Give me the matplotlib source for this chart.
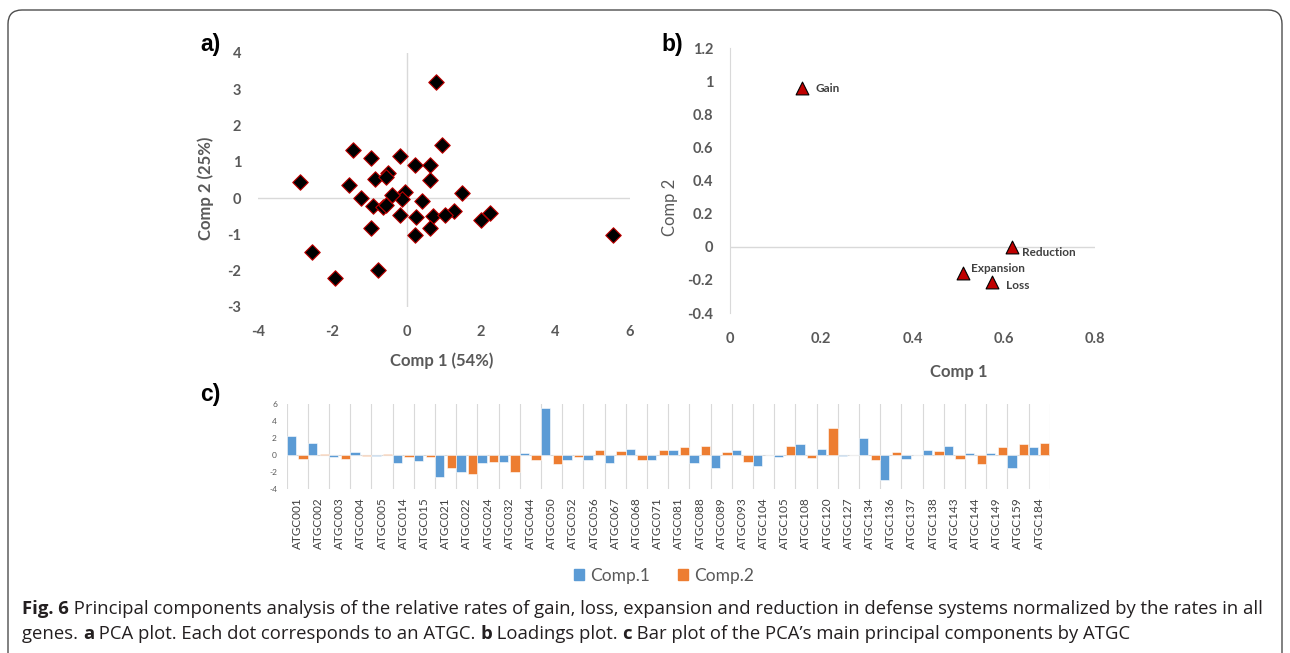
"""
PCA figure (Fig. 6): scores scatter, loadings plot and per-ATGC bar plot.

Output:
    out.png (1290 x 653 px)
"""

from __future__ import annotations

import matplotlib

matplotlib.use("Agg")

import matplotlib.pyplot as plt
import numpy as np
from matplotlib import font_manager
from matplotlib.patches import FancyBboxPatch, Patch
from matplotlib.transforms import IdentityTransform


# ---------------------------------------------------------------------------
# Data
# ---------------------------------------------------------------------------

ATGC_LABELS = [
    "ATGC001", "ATGC002", "ATGC003", "ATGC004", "ATGC005", "ATGC014",
    "ATGC015", "ATGC021", "ATGC022", "ATGC024", "ATGC032", "ATGC044",
    "ATGC050", "ATGC052", "ATGC056", "ATGC067", "ATGC068", "ATGC071",
    "ATGC081", "ATGC088", "ATGC089", "ATGC093", "ATGC104", "ATGC105",
    "ATGC108", "ATGC120", "ATGC127", "ATGC134", "ATGC136", "ATGC137",
    "ATGC138", "ATGC143", "ATGC144", "ATGC149", "ATGC159", "ATGC184",
]

COMP1_SCORES = [
    2.25, 1.48, -0.17, 0.40, -0.04, -0.90,
    -0.63, -2.55, -1.93, -0.95, -0.78, 0.25,
    5.53, -0.55, -0.50, -0.85, 0.71, -0.56,
    0.64, -0.96, -1.54, 0.64, -1.23, -0.19,
    1.28, 0.79, -0.13, 1.99, -2.86, -0.40,
    0.63, 1.04, 0.23, 0.23, -1.45, 0.96,
]

COMP2_SCORES = [
    -0.42, 0.14, -0.47, -0.09, 0.16, -0.23,
    -0.25, -1.48, -2.21, -0.82, -1.97, -0.53,
    -1.03, -0.20, 0.68, 0.53, -0.50, 0.57,
    0.92, 1.11, 0.35, -0.82, 0.00, 1.15,
    -0.37, 3.20, -0.02, -0.61, 0.43, 0.09,
    0.49, -0.46, -1.03, 0.92, 1.31, 1.46,
]

LOADING_NAMES = ["Gain", "Reduction", "Expansion", "Loss"]
LOADING_COMP1 = [0.158, 0.618, 0.510, 0.574]
LOADING_COMP2 = [0.96, 0.00, -0.16, -0.21]

SCORE_X_TICKS = [-4, -2, 0, 2, 4, 6]
SCORE_Y_TICKS = [-3, -2, -1, 0, 1, 2, 3, 4]
LOADING_X_TICKS = [0, 0.2, 0.4, 0.6, 0.8]
LOADING_Y_TICKS = [-0.4, -0.2, 0, 0.2, 0.4, 0.6, 0.8, 1, 1.2]
BAR_Y_TICKS = [-4, -2, 0, 2, 4, 6]

CAPTION_LINE1 = [
    ("Fig. 6", True),
    (" Principal components analysis of the relative rates of gain, loss, expansion "
     "and reduction in defense systems normalized by the rates in all", False),
]
CAPTION_LINE2 = [
    ("genes. ", False),
    ("a", True),
    (" PCA plot. Each dot corresponds to an ATGC. ", False),
    ("b", True),
    (" Loadings plot. ", False),
    ("c", True),
    (" Bar plot of the PCA\u2019s main principal components by ATGC", False),
]


# ---------------------------------------------------------------------------
# Style
# ---------------------------------------------------------------------------

OUTPUT_PNG = "out.png"
FIGURE_DPI = 100
FIG_W_PX, FIG_H_PX = 1290, 653

BLUE = "#5B9BD5"
ORANGE = "#ED7D31"
TICK_GRAY = "#595959"
LINE_GRAY = "#D9D9D9"
TEXT_DARK = "#231F20"

_available = {f.name for f in font_manager.fontManager.ttflist}
CHART_FONT = "Lato" if "Lato" in _available else "DejaVu Sans"
CAPTION_FONT = next(
    (name for name in ["Liberation Sans Narrow", "Open Sans", "Liberation Sans"] if name in _available),
    "DejaVu Sans",
)

plt.rcParams["font.family"] = [CHART_FONT, "DejaVu Sans"]
plt.rcParams["axes.unicode_minus"] = False  # Excel uses a plain hyphen

# label offsets (pixels) for the loading annotations
LOADING_LABEL_OFFSETS = {
    "Gain": (13, 0),
    "Reduction": (10, -6),
    "Expansion": (8, 5),
    "Loss": (14, -4),
}


def px_rect(left, top, right, bottom):
    """Pixel box (top-left origin) -> figure fraction [l, b, w, h]."""
    return [
        left / FIG_W_PX,
        1 - bottom / FIG_H_PX,
        (right - left) / FIG_W_PX,
        (bottom - top) / FIG_H_PX,
    ]


def style_plain_axes(ax):
    for spine in ax.spines.values():
        spine.set_visible(False)
    ax.tick_params(length=0, labelcolor=TICK_GRAY)


def plot_scores(fig):
    ax = fig.add_axes(px_rect(257.7, 52.7, 630, 307))
    ax.scatter(
        COMP1_SCORES, COMP2_SCORES,
        marker="D", s=62, c="black", edgecolors="#C00000", linewidths=0.8, zorder=3,
    )
    ax.set_xlim(-4, 6)
    ax.set_ylim(-3, 4)
    ax.axhline(0, color=LINE_GRAY, lw=1.0, zorder=1)
    ax.axvline(0, color=LINE_GRAY, lw=1.0, zorder=1)
    style_plain_axes(ax)
    ax.set_xticks(SCORE_X_TICKS)
    ax.set_yticks(SCORE_Y_TICKS)
    ax.tick_params(axis="x", pad=13, labelsize=10.5)
    ax.tick_params(axis="y", pad=12, labelsize=10.5)
    for label in ax.get_xticklabels() + ax.get_yticklabels():
        label.set_fontweight("bold")

    ax.text(0.495, -0.212, "Comp 1 (54%)", transform=ax.transAxes, ha="center", va="center",
            fontsize=12, fontweight="bold", color=TICK_GRAY)
    ax.text(-0.139, 0.468, "Comp 2 (25%)", transform=ax.transAxes, ha="center", va="center",
            rotation=90, fontsize=12, fontweight="bold", color=TICK_GRAY)


def plot_loadings(fig):
    ax = fig.add_axes(px_rect(730, 48.3, 1095, 313))
    ax.scatter(
        LOADING_COMP1, LOADING_COMP2,
        marker="^", s=85, c="#C00000", edgecolors="black", linewidths=0.8, zorder=3,
    )
    ax.set_xlim(0, 0.8)
    ax.set_ylim(-0.4, 1.2)
    ax.axhline(0, color=LINE_GRAY, lw=1.0, zorder=1)
    style_plain_axes(ax)
    ax.spines["left"].set_visible(True)
    ax.spines["left"].set_color(LINE_GRAY)
    ax.set_xticks(LOADING_X_TICKS)
    ax.set_xticklabels([f"{v:g}" for v in LOADING_X_TICKS])
    ax.set_yticks(LOADING_Y_TICKS)
    ax.set_yticklabels([f"{v:g}" for v in LOADING_Y_TICKS])
    ax.tick_params(axis="x", pad=14, labelsize=10.5)
    ax.tick_params(axis="y", pad=12, labelsize=10.5)
    for label in ax.get_xticklabels() + ax.get_yticklabels():
        label.set_fontweight("bold")

    for name, x, y in zip(LOADING_NAMES, LOADING_COMP1, LOADING_COMP2):
        dx, dy = LOADING_LABEL_OFFSETS[name]
        ax.annotate(name, (x, y), xytext=(dx * 0.72, dy * 0.72), textcoords="offset points",
                    ha="left", va="center", fontsize=8.5, fontweight="bold", color="#404040")

    ax.text(0.627, -0.223, "Comp 1", transform=ax.transAxes, ha="center", va="center",
            fontsize=12, fontweight="bold", color=TICK_GRAY)
    ax.text(-0.164, 0.40, "Comp 2", transform=ax.transAxes, ha="center", va="center",
            rotation=90, fontsize=12, color=TICK_GRAY)


def plot_bars(fig):
    ax = fig.add_axes(px_rect(286.7, 404.3, 1049.7, 489.3))
    x = np.arange(len(ATGC_LABELS))
    ax.bar(x - 0.28, COMP1_SCORES, width=0.44, color=BLUE, edgecolor="white", linewidth=0.4, zorder=3)
    ax.bar(x + 0.27, COMP2_SCORES, width=0.44, color=ORANGE, edgecolor="white", linewidth=0.4, zorder=3)
    for boundary in np.arange(-0.5, len(ATGC_LABELS), 1.0):
        ax.axvline(boundary, color=LINE_GRAY, lw=0.8, zorder=0)
    ax.axhline(0, color=LINE_GRAY, lw=0.8, zorder=1)
    ax.set_xlim(-0.5, len(ATGC_LABELS) - 0.5)
    ax.set_ylim(-4, 6)
    style_plain_axes(ax)
    ax.set_yticks(BAR_Y_TICKS)
    ax.tick_params(axis="y", pad=7, labelsize=6)
    ax.set_xticks(x)
    ax.set_xticklabels(ATGC_LABELS, rotation=90)
    ax.tick_params(axis="x", pad=6, labelsize=8.5, labelcolor="#404040")

    handles = [Patch(color=BLUE, label="Comp.1"), Patch(color=ORANGE, label="Comp.2")]
    legend = fig.legend(
        handles=handles, loc="center", bbox_to_anchor=(664 / FIG_W_PX, 1 - 576 / FIG_H_PX),
        ncol=2, frameon=False, fontsize=12.5, handlelength=0.6, handleheight=0.6,
        handletextpad=0.35, columnspacing=1.6,
    )
    for text in legend.get_texts():
        text.set_color(TICK_GRAY)


def draw_runs(fig, renderer, x_px, y_px, runs, fontsize):
    """Draw a caption line made of (text, bold) runs side by side; return end x (px)."""
    x = x_px
    for text, bold in runs:
        artist = fig.text(
            x / FIG_W_PX, 1 - y_px / FIG_H_PX, text,
            ha="left", va="center", fontsize=fontsize, color=TEXT_DARK,
            fontweight="bold" if bold else "normal", family=[CAPTION_FONT, "DejaVu Sans"],
        )
        x = artist.get_window_extent(renderer).x1
    return x


def draw_caption(fig):
    renderer = fig.canvas.get_renderer()
    # measure line 1 at a trial size, then scale it to span the frame width
    trial = 10.0
    probe = []
    x = 22.0
    for text, bold in CAPTION_LINE1:
        artist = fig.text(0, 0, text, fontsize=trial, fontweight="bold" if bold else "normal",
                          family=[CAPTION_FONT, "DejaVu Sans"])
        x += artist.get_window_extent(renderer).width
        probe.append(artist)
    for artist in probe:
        artist.remove()
    fontsize = trial * (1262 - 22) / (x - 22)

    draw_runs(fig, renderer, 22, 609, CAPTION_LINE1, fontsize)
    draw_runs(fig, renderer, 22, 634, CAPTION_LINE2, fontsize)


def main() -> None:
    fig = plt.figure(figsize=(FIG_W_PX / FIGURE_DPI, FIG_H_PX / FIGURE_DPI), dpi=FIGURE_DPI)
    fig.patch.set_facecolor("white")

    frame = FancyBboxPatch(
        (8, -30), 1274, 673, boxstyle="round,pad=0,rounding_size=14",
        transform=IdentityTransform(), facecolor="none", edgecolor="#4D4D4D", linewidth=1.0,
    )
    fig.patches.append(frame)

    plot_scores(fig)
    plot_loadings(fig)
    plot_bars(fig)

    for label, (x, y) in {"a)": (210, 45), "b)": (672, 44), "c)": (210, 395)}.items():
        fig.text(x / FIG_W_PX, 1 - y / FIG_H_PX, label, ha="center", va="center",
                 fontsize=16.5, fontweight="bold", color="black", family=["Liberation Sans", "DejaVu Sans"])

    draw_caption(fig)

    fig.savefig(OUTPUT_PNG, dpi=FIGURE_DPI)
    plt.close(fig)


if __name__ == "__main__":
    main()
